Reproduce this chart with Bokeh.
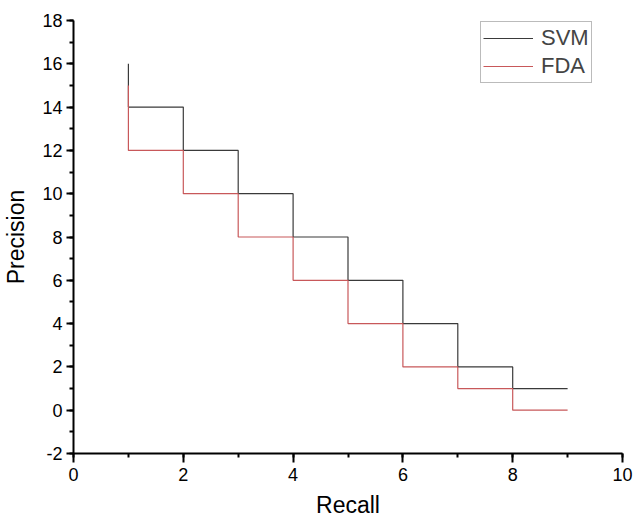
from bokeh.plotting import figure
from bokeh.models import SingleIntervalTicker, Legend, LegendItem, Range1d, CustomJSTickFormatter
from bokeh.embed import file_html
from bokeh.resources import INLINE

# data
recall_svm = [1, 1, 2, 3, 4, 5, 6, 7, 8, 9]
prec_svm = [16, 14, 12, 10, 8, 6, 4, 2, 1, 1]
recall_fda = [1, 1, 2, 3, 4, 5, 6, 7, 8, 9]
prec_fda = [15, 12, 10, 8, 6, 4, 2, 1, 0, 0]

FONT = "Liberation Sans"

p = figure(width=634, height=520, output_backend="svg", toolbar_location=None,
           x_range=Range1d(0, 10), y_range=Range1d(-2, 18),
           min_border_left=73, min_border_right=12, min_border_top=20, min_border_bottom=59)
p.outline_line_color = None
p.xgrid.visible = False
p.ygrid.visible = False

r1 = p.step(recall_svm, prec_svm, mode="after", line_color="#3a3a3a", line_width=1.2)
r2 = p.step(recall_fda, prec_fda, mode="after", line_color="#c8585a", line_width=1.2)

for ax in (p.xaxis[0], p.yaxis[0]):
    ax.ticker = SingleIntervalTicker(interval=2, num_minor_ticks=2)
    ax.formatter = CustomJSTickFormatter(code="return tick.toString();")
    ax.axis_line_width = 2
    ax.axis_line_color = "black"
    ax.major_tick_line_width = 2
    ax.minor_tick_line_width = 2
    ax.major_tick_in = 0
    ax.minor_tick_out = 4
    ax.minor_tick_in = 0
    ax.major_label_text_font = FONT
    ax.major_label_text_font_size = "18px"
    ax.major_label_text_color = "black"
    ax.axis_label_text_font = FONT
    ax.axis_label_text_font_size = "23px"
    ax.axis_label_text_font_style = "normal"
    ax.axis_label_text_color = "black"

p.xaxis.major_tick_out = 9
p.yaxis.major_tick_out = 7
p.xaxis.axis_label = "Recall"
p.yaxis.axis_label = "Precision"
p.xaxis.major_label_standoff = 5
p.yaxis.major_label_standoff = 4
p.xaxis.axis_label_standoff = 8
p.yaxis.axis_label_standoff = 10

legend = Legend(items=[LegendItem(label="SVM", renderers=[r1]),
                       LegendItem(label="FDA", renderers=[r2])],
                location=(407, 370))
legend.label_text_font = FONT
legend.label_text_font_size = "22px"
legend.glyph_width = 50
legend.glyph_height = 28
legend.label_height = 28
legend.spacing = 0
legend.padding = 2
legend.margin = 0
legend.label_standoff = 8
legend.border_line_color = "#777777"
legend.border_line_width = 1.5
legend.background_fill_alpha = 0
p.add_layout(legend)

open("out.html", "w").write(file_html(p, INLINE))
